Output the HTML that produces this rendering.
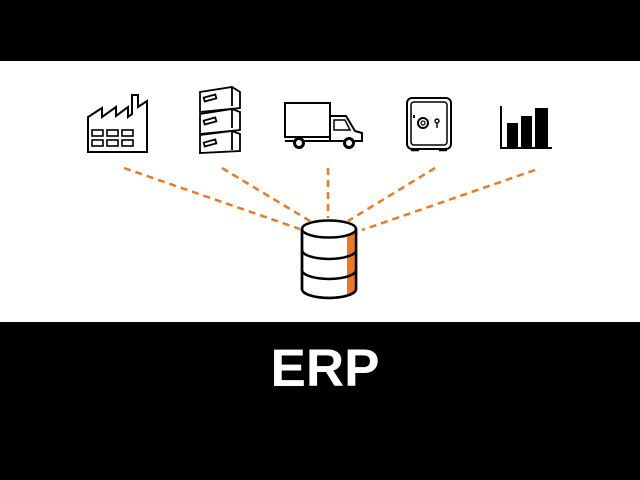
<!DOCTYPE html>
<html><head><meta charset="utf-8"><style>
html,body{margin:0;padding:0;background:#000;width:640px;height:480px;overflow:hidden}
</style></head><body>
<svg width="640" height="480" viewBox="0 0 640 480" xmlns="http://www.w3.org/2000/svg">
<rect x="0" y="0" width="640" height="480" fill="#000"/>
<rect x="0" y="61" width="640" height="261" fill="#fff"/>
<g stroke="#ee7a1f" stroke-width="2.5" stroke-dasharray="7,5" fill="none">
<line x1="124" y1="168" x2="300" y2="229"/>
<line x1="222" y1="168" x2="310" y2="221"/>
<line x1="328" y1="168" x2="328" y2="218"/>
<line x1="435" y1="168" x2="348" y2="221"/>
<line x1="535" y1="170" x2="362" y2="230"/>
</g>
<g stroke="#000" stroke-width="2" fill="none">
<path d="M88 152 V117 L102 108 V117 L116 107 V116 L128 107 V117 L132 114 V95 H138 V107 L147 101 V152 Z" fill="#fff"/>
<g stroke-width="1.6"><rect x="92" y="130" width="11" height="6"/><rect x="107" y="130" width="11" height="6"/><rect x="122" y="130" width="11" height="6"/>
<rect x="92" y="140" width="11" height="6"/><rect x="107" y="140" width="11" height="6"/><rect x="122" y="140" width="11" height="6"/></g>
<g stroke-width="1.8">
<path d="M200 92 L232 87 L240 92 V108 L200 112 Z"/><path d="M232 87 V106"/><rect x="204" y="96" width="12" height="4" transform="rotate(-15 210 98)"/>
<path d="M200 114 L232 109 L240 112 V130 L200 134 Z"/><path d="M232 109 V128"/><rect x="204" y="119" width="12" height="4" transform="rotate(-15 210 121)"/>
<path d="M200 135 L232 131 L240 134 V151 L200 153 Z"/><path d="M232 131 V150"/><rect x="204" y="141" width="12" height="4" transform="rotate(-15 210 143)"/>
</g>
<rect x="285" y="103" width="45" height="34"/>
<path d="M330 116 H346 L355 131 L362 133 V141 H330 Z"/>
<path d="M334 120 H345 L350 130 H334 Z" stroke-width="1.5"/>
<line x1="285" y1="141" x2="362" y2="141"/>
<circle cx="299" cy="143" r="4.5" fill="#fff" stroke-width="3"/>
<circle cx="349" cy="143" r="4.5" fill="#fff" stroke-width="3"/>
<rect x="407" y="98" width="44" height="51" rx="5"/>
<rect x="411" y="102" width="36" height="43" rx="3" stroke-width="1.5"/>
<circle cx="423" cy="123" r="5"/><circle cx="423" cy="123" r="2" stroke-width="1.2"/>
<circle cx="437" cy="121" r="2" stroke-width="1.4"/><line x1="437" y1="123" x2="437" y2="128" stroke-width="1.4"/>
<line x1="414" y1="115" x2="414" y2="118"/>
<path d="M411 150 h8 M439 150 h8" stroke-width="2.5"/>
<path d="M501 106 V148 H552"/>
</g>
<g fill="#000">
<rect x="507" y="123" width="11" height="24"/>
<rect x="521" y="116" width="11" height="31"/>
<rect x="535" y="108" width="13" height="39"/>
</g>
<g stroke="#000" stroke-width="2.5">
<path d="M302 229 V289 A27 9 0 0 0 356 289 V229" fill="#fff"/>
<path d="M347 236 V295 L355 291 V231 Z" fill="#ee7a1f" stroke="none"/>
<path d="M302 229 V289 A27 9 0 0 0 356 289 V229" fill="none"/>
<ellipse cx="329" cy="229" rx="27" ry="8.5" fill="#fff"/>
<path d="M302 250 A27 9 0 0 0 356 250 M302 270 A27 9 0 0 0 356 270" fill="none"/>
</g>
<text x="325" y="386" text-anchor="middle" font-family="Liberation Sans, sans-serif" font-weight="bold" font-size="53" fill="#fff">ERP</text>
</svg>
</body></html>
